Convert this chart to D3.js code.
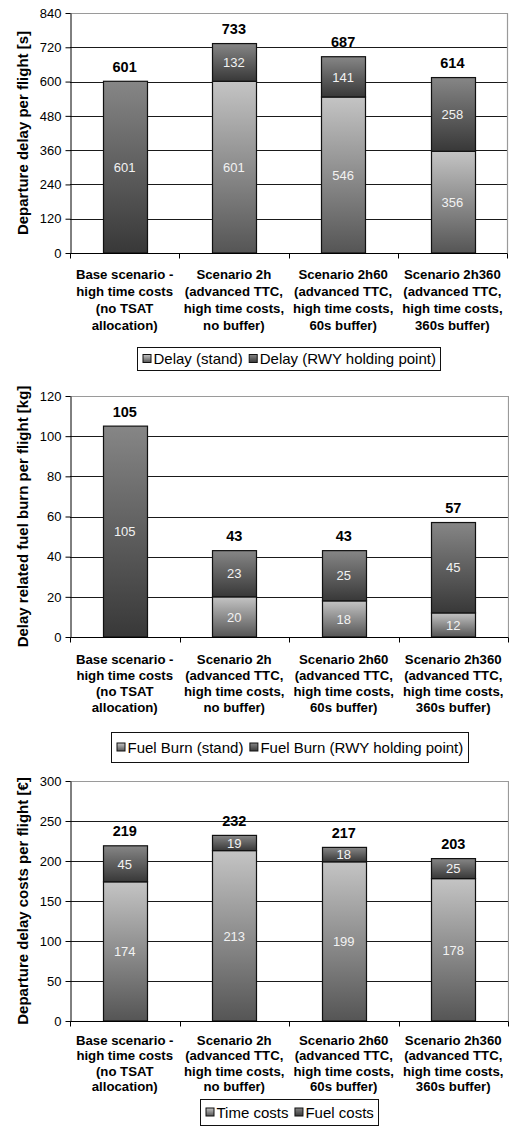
<!DOCTYPE html>
<html>
<head>
<meta charset="utf-8">
<script src="https://cdn.jsdelivr.net/npm/d3@7"></script>
<style>
  html, body { margin: 0; padding: 0; background: #fff; }
  svg { display: block; }
  text { font-family: "Liberation Sans", Arial, sans-serif; }
</style>
</head>
<body>
<svg id="chart" width="509" height="1135"></svg>
<script>
// Scenario names, one line per entry
const categories = [
  ["Base scenario -", "high time costs", "(no TSAT", "allocation)"],
  ["Scenario 2h", "(advanced TTC,", "high time costs,", "no buffer)"],
  ["Scenario 2h60", "(advanced TTC,", "high time costs,", "60s buffer)"],
  ["Scenario 2h360", "(advanced TTC,", "high time costs,", "360s buffer)"]
];

// Departure delay per flight [s]
const delayStand = [0, 601, 546, 356];
const delayRwy = [601, 132, 141, 258];
const delayTicks = [0, 120, 240, 360, 480, 600, 720, 840];

// Delay related fuel burn per flight [kg]
const fuelStand = [0, 20, 18, 12];
const fuelRwy = [105, 23, 25, 45];
const fuelTicks = [0, 20, 40, 60, 80, 100, 120];

// Departure delay costs per flight [€]
const timeCosts = [174, 213, 199, 178];
const fuelCosts = [45, 19, 18, 25];
const costTicks = [0, 50, 100, 150, 200, 250, 300];

const svg = d3.select("#chart");
const defs = svg.append("defs");

// Vertical gradient fills for the two segment styles
function gradient(id, top, bottom) {
  const g = defs.append("linearGradient").attr("id", id)
    .attr("x1", 0).attr("y1", 0).attr("x2", 0).attr("y2", 1);
  g.append("stop").attr("offset", "0%").attr("stop-color", top);
  g.append("stop").attr("offset", "100%").attr("stop-color", bottom);
}
gradient("gLight", "#c4c4c4", "#555555");
gradient("gDark", "#868686", "#383838");

const charts = [
  {
    top: 13, bottom: 253, left: 70, right: 507,
    ticks: delayTicks,
    title: "Departure delay per flight [s]",
    series: [
      { name: "Delay (stand)", values: delayStand, fill: "url(#gLight)" },
      { name: "Delay (RWY holding point)", values: delayRwy, fill: "url(#gDark)" }
    ],
    catOffset: 26, catLine: 16.9,
    legendY: 358.5, legendH: 23
  },
  {
    top: 396, bottom: 637, left: 70, right: 508,
    ticks: fuelTicks,
    title: "Delay related fuel burn per flight [kg]",
    series: [
      { name: "Fuel Burn (stand)", values: fuelStand, fill: "url(#gLight)" },
      { name: "Fuel Burn (RWY holding point)", values: fuelRwy, fill: "url(#gDark)" }
    ],
    catOffset: 26.5, catLine: 16.2,
    legendY: 747, legendH: 30
  },
  {
    top: 781, bottom: 1021, left: 70, right: 508,
    ticks: costTicks,
    title: "Departure delay costs per flight [€]",
    series: [
      { name: "Time costs", values: timeCosts, fill: "url(#gLight)" },
      { name: "Fuel costs", values: fuelCosts, fill: "url(#gDark)" }
    ],
    catOffset: 24, catLine: 15.3,
    legendY: 1112, legendH: 26
  }
];

charts.forEach(cfg => drawChart(cfg));

function drawChart(cfg) {
  const g = svg.append("g");
  const idx = d3.range(categories.length);

  const x = d3.scaleBand().domain(idx).range([cfg.left, cfg.right])
    .paddingInner(0.6).paddingOuter(0.3);
  const y = d3.scaleLinear().domain([0, d3.max(cfg.ticks)]).range([cfg.bottom, cfg.top]);
  const gap = (x.step() - x.bandwidth()) / 2;

  // horizontal gridlines
  g.append("g").selectAll("line")
    .data(cfg.ticks.slice(1, -1))
    .join("line")
    .attr("x1", cfg.left).attr("x2", cfg.right)
    .attr("y1", d => Math.round(y(d)) + 0.5).attr("y2", d => Math.round(y(d)) + 0.5)
    .attr("stroke", "#1a1a1a").attr("stroke-width", 1);

  // plot-area frame (top and right)
  g.append("path")
    .attr("d", `M${cfg.left},${Math.round(y(d3.max(cfg.ticks))) + 0.5}H${cfg.right + 0.5}V${cfg.bottom}`)
    .attr("fill", "none").attr("stroke", "#9a9a9a").attr("stroke-width", 1.2);

  // stacked segments
  const stack = d3.stack().keys(d3.range(cfg.series.length))
    .value((i, k) => cfg.series[k].values[i]);
  const layers = stack(idx);

  layers.forEach((layer, k) => {
    const s = cfg.series[k];
    const segs = layer.map((d, i) => ({ i, y0: d[0], y1: d[1], v: s.values[i] }))
      .filter(d => d.v > 0);
    g.append("g").selectAll("rect")
      .data(segs)
      .join("rect")
      .attr("x", d => Math.round(x(d.i)) + 0.5)
      .attr("width", Math.round(x.bandwidth()))
      .attr("y", d => y(d.y1))
      .attr("height", d => y(d.y0) - y(d.y1))
      .attr("fill", s.fill)
      .attr("stroke", "#111").attr("stroke-width", 1.2);

    g.append("g").selectAll("text")
      .data(segs)
      .join("text")
      .attr("x", d => x(d.i) + x.bandwidth() / 2)
      .attr("y", d => (y(d.y0) + y(d.y1)) / 2 + 4.7)
      .attr("text-anchor", "middle")
      .attr("font-size", 13)
      .attr("fill", "#f2f2f2")
      .text(d => d.v);
  });

  // totals above bars
  const totals = idx.map(i => d3.sum(cfg.series, s => s.values[i]));
  g.append("g").selectAll("text")
    .data(totals)
    .join("text")
    .attr("x", (d, i) => x(i) + x.bandwidth() / 2)
    .attr("y", d => y(d) - 9.5)
    .attr("text-anchor", "middle")
    .attr("font-size", 14.5).attr("font-weight", "bold")
    .attr("fill", "#000")
    .text(d => d);

  // y axis
  const yAxis = g.append("g")
    .attr("transform", `translate(${cfg.left + 0.5},0)`)
    .call(d3.axisLeft(y).tickValues(cfg.ticks).tickSize(5).tickPadding(4).tickSizeOuter(0));
  yAxis.select(".domain").attr("stroke", "#000");
  yAxis.selectAll(".tick line").attr("stroke", "#000");
  yAxis.selectAll(".tick text")
    .attr("font-size", 13).attr("font-family", "Liberation Sans, Arial, sans-serif")
    .attr("fill", "#000");

  // x axis baseline and boundary ticks
  const by = Math.round(cfg.bottom) + 0.5;
  g.append("line")
    .attr("x1", cfg.left).attr("x2", cfg.right + 0.5)
    .attr("y1", by).attr("y2", by)
    .attr("stroke", "#000");
  const bounds = idx.map(i => x(i) - gap).concat([x(idx.length - 1) + x.bandwidth() + gap]);
  g.append("g").selectAll("line")
    .data(bounds)
    .join("line")
    .attr("x1", d => Math.round(d) + 0.5).attr("x2", d => Math.round(d) + 0.5)
    .attr("y1", by).attr("y2", by + 5)
    .attr("stroke", "#000");

  // category labels
  const cat = g.append("g").selectAll("text")
    .data(categories)
    .join("text")
    .attr("text-anchor", "middle")
    .attr("font-size", 13.2).attr("font-weight", "bold")
    .attr("fill", "#000");
  cat.each(function (lines, i) {
    d3.select(this).selectAll("tspan")
      .data(lines)
      .join("tspan")
      .attr("x", x(i) + x.bandwidth() / 2)
      .attr("y", (d, j) => cfg.bottom + cfg.catOffset + j * cfg.catLine)
      .text(d => d);
  });

  // y title
  g.append("text")
    .attr("transform", `translate(28,${(cfg.top + cfg.bottom) / 2}) rotate(-90)`)
    .attr("text-anchor", "middle")
    .attr("font-size", 15).attr("font-weight", "bold")
    .attr("fill", "#000")
    .text(cfg.title);

  // legend
  const lg = g.append("g");
  let cx = 0;
  const items = [];
  cfg.series.forEach((s, k) => {
    const it = lg.append("g");
    it.append("rect")
      .attr("x", 0.5).attr("y", -9.5).attr("width", 8).attr("height", 8)
      .attr("fill", s.fill).attr("stroke", "#111").attr("stroke-width", 1);
    const t = it.append("text")
      .attr("x", 11).attr("y", 0)
      .attr("font-size", 15).attr("fill", "#000")
      .text(s.name);
    items.push({ it, offset: cx });
    cx += 11 + t.node().getComputedTextLength() + 6;
  });
  const contentW = cx - 6;
  const midX = (cfg.left + cfg.right) / 2;
  const boxW = contentW + 10;
  const bx = Math.round(midX - boxW / 2) + 0.5;
  const byTop = Math.round(cfg.legendY - cfg.legendH / 2) + 0.5;
  lg.insert("rect", ":first-child")
    .attr("x", bx).attr("y", byTop).attr("width", Math.round(boxW)).attr("height", cfg.legendH)
    .attr("fill", "#fff").attr("stroke", "#111").attr("stroke-width", 1);
  items.forEach(({ it, offset }) => {
    it.attr("transform", `translate(${bx + 5 + offset},${cfg.legendY + 5.5})`);
  });
}
</script>
</body>
</html>
